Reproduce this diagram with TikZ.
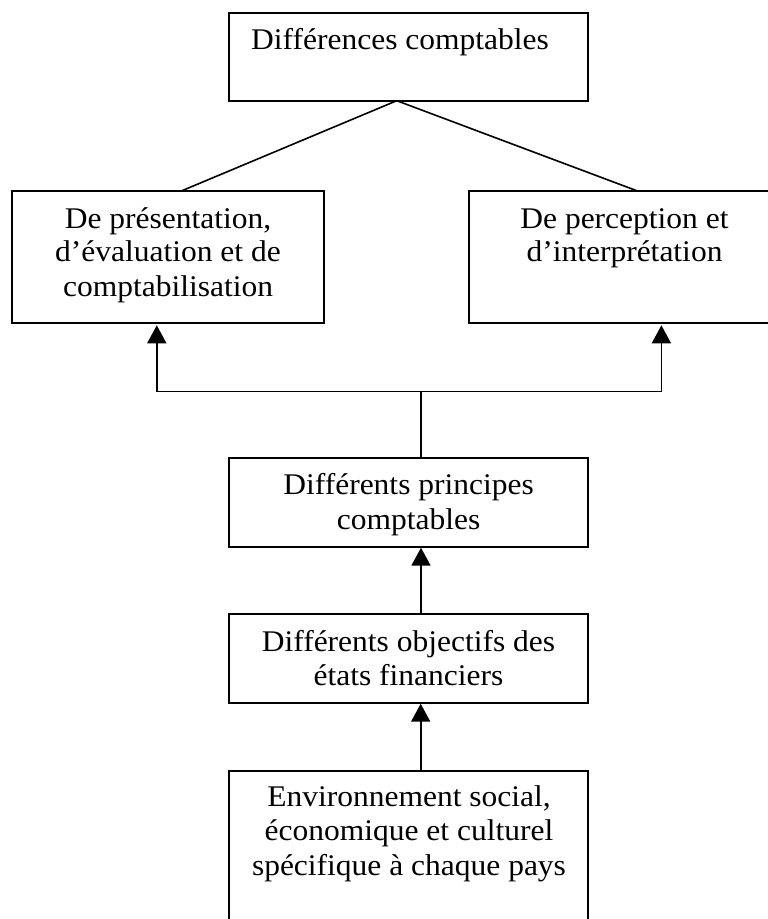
\documentclass[tikz,border=0pt]{standalone}
\usepackage{fontspec}
\setmainfont{Liberation Serif}[FakeStretch=1.05]
\usetikzlibrary{arrows.meta,calc}
\begin{document}
\begin{tikzpicture}[x=1pt,y=-1pt,
  box/.style={draw,line width=1.8pt,inner sep=0pt,outer sep=0pt},
  lbl/.style={anchor=base,inner sep=0pt,font=\fontsize{30}{34}\selectfont},
  link/.style={line width=1.6pt},
  uparrow/.style={line width=1.8pt,-{Triangle[width=19pt,length=18pt]}}]
\path[use as bounding box,clip] (0,0) rectangle (768,919);
% boxes
\node[box,minimum width=359.3pt,minimum height=88pt] (top) at (408.35,56.7) {};
\node[box,minimum width=311.6pt,minimum height=132.6pt] (left) at (168,257) {};
\node[box,minimum width=311.6pt,minimum height=132.6pt] (right) at (624.5,257) {};
\node[box,minimum width=359.3pt,minimum height=88.4pt] (mid) at (408.35,502.5) {};
\node[box,minimum width=359.3pt,minimum height=88.4pt] (obj) at (408.35,658.5) {};
\node[box,minimum width=359.3pt,minimum height=189.3pt] (env) at (408.35,865.35) {};
% texts
\node[lbl] (t1) at (400,49.5) {Différences comptables};
\node[lbl] (l1) at (168,228.3) {De présentation,};
\node[lbl] (l2) at (168,261.7) {d’évaluation et de};
\node[lbl] (l3) at (168,296) {comptabilisation};
\node[lbl] (r1) at (624.5,228.3) {De perception et};
\node[lbl] (r2) at (624.5,261.7) {d’interprétation};
\node[lbl] (m1) at (408.6,494.3) {Différents principes};
\node[lbl] (m2) at (408.6,529.3) {comptables};
\node[lbl] (o1) at (408.5,651.5) {Différents objectifs des};
\node[lbl] (o2) at (408.5,685.5) {états financiers};
\node[lbl] (e1) at (409,806.7) {Environnement social,};
\node[lbl] (e2) at (409,840.5) {économique et culturel};
\node[lbl] (e3) at (409,875) {spécifique à chaque pays};
% connectors
\draw[link] ([xshift=-11.6pt]top.south) -- ([xshift=14pt]left.north);
\draw[link] ([xshift=-11.6pt]top.south) -- ([xshift=12.2pt]right.north);
\coordinate (junction) at (421.0,391.5);
\draw[uparrow,-] ([xshift=12.65pt]mid.north) -- (junction);
\draw[uparrow] (junction) -| ([xshift=-11.2pt,yshift=-2pt]left.south);
\draw[uparrow] (junction) -| ([xshift=36.9pt,yshift=-2pt]right.south);
\draw[uparrow] ([xshift=12.65pt]obj.north) -- ([xshift=12.65pt,yshift=-1pt]mid.south);
\draw[uparrow] ([xshift=12.35pt]env.north) -- ([xshift=12.35pt,yshift=-1pt]obj.south);
\end{tikzpicture}
\end{document}
